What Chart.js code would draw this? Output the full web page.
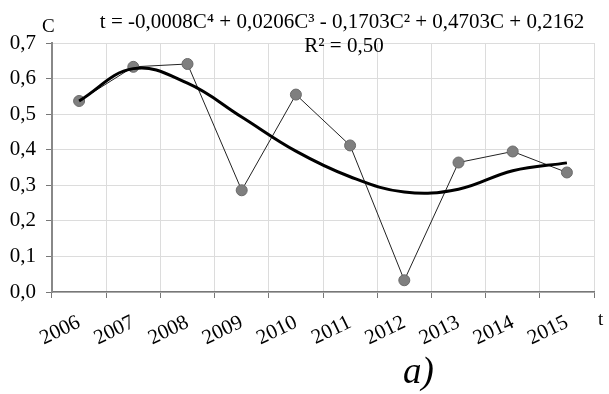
<!DOCTYPE html>
<html>
<head>
<meta charset="utf-8">
<script src="https://cdn.jsdelivr.net/npm/chart.js@4"></script>
<style>
  html, body { margin: 0; padding: 0; background: #fff; }
  #wrap { width: 609px; height: 394px; position: relative; }
</style>
</head>
<body>
<div id="wrap"><canvas id="chart"></canvas></div>
<script>
// Data
const years = ['2006', '2007', '2008', '2009', '2010', '2011', '2012', '2013', '2014', '2015'];
const values = [0.537, 0.633, 0.641, 0.286, 0.555, 0.412, 0.033, 0.364, 0.395, 0.336];
const trend = [0.537, 0.628, 0.587, 0.492, 0.396, 0.324, 0.281, 0.289, 0.341, 0.363];
const yTicks = [0, 0.1, 0.2, 0.3, 0.4, 0.5, 0.6, 0.7];

const serif = '"Liberation Serif", "Times New Roman", serif';

// Labels: equation, axis names, panel letter
const textPlugin = {
  id: 'texts',
  afterDraw(chart) {
    const ctx = chart.ctx;
    ctx.save();
    ctx.fillStyle = '#000';
    ctx.textBaseline = 'alphabetic';
    ctx.font = '21px ' + serif;
    ctx.textAlign = 'center';
    ctx.fillText('t = -0,0008C\u2074 + 0,0206C\u00b3 - 0,1703C\u00b2 + 0,4703C + 0,2162', 342, 28);
    ctx.fillText('R\u00b2 = 0,50', 344, 52);
    ctx.font = '19px ' + serif;
    ctx.textAlign = 'left';
    ctx.fillText('C', 42, 32);
    ctx.fillText('t', 598, 325);
    ctx.font = 'italic 37px ' + serif;
    ctx.fillText('a)', 403, 383);
    ctx.restore();
  }
};

new Chart(document.getElementById('chart'), {
  type: 'line',
  data: {
    labels: years,
    datasets: [
      {
        label: 'trend',
        data: trend,
        borderColor: '#000',
        borderWidth: 3,
        pointRadius: 0,
        tension: 0.4,
        fill: false,
        order: 1
      },
      {
        label: 'C',
        data: values,
        borderColor: '#222',
        borderWidth: 1,
        pointRadius: 5.5,
        pointBackgroundColor: '#7f7f7f',
        pointBorderColor: '#6a6a6a',
        pointBorderWidth: 1,
        tension: 0,
        fill: false,
        order: 2
      }
    ]
  },
  options: {
    responsive: true,
    maintainAspectRatio: false,
    animation: false,
    layout: { padding: { top: 43, right: 15, left: 0, bottom: 0 } },
    plugins: {
      legend: { display: false },
      tooltip: { enabled: false }
    },
    scales: {
      x: {
        type: 'category',
        offset: true,
        grid: {
          offset: true,
          color: '#dcdcdc',
          tickColor: '#777',
          tickLength: 6
        },
        border: { color: '#777', width: 1.5 },
        ticks: {
          minRotation: 26,
          maxRotation: 26,
          color: '#000',
          padding: 12,
          font: { family: serif, size: 21 }
        },
        afterFit(scale) { scale.height = 102; }
      },
      y: {
        min: 0,
        max: 0.7,
        afterBuildTicks(scale) {
          scale.ticks = yTicks.map(v => ({ value: v }));
        },
        grid: {
          color: '#dcdcdc',
          tickColor: '#777',
          tickLength: 6
        },
        border: { color: '#888', width: 2 },
        ticks: {
          color: '#000',
          padding: 10,
          font: { family: serif, size: 21 },
          callback: v => v.toFixed(1).replace('.', ',')
        },
        afterFit(scale) { scale.width = 52; }
      }
    }
  },
  plugins: [textPlugin]
});
</script>
</body>
</html>
